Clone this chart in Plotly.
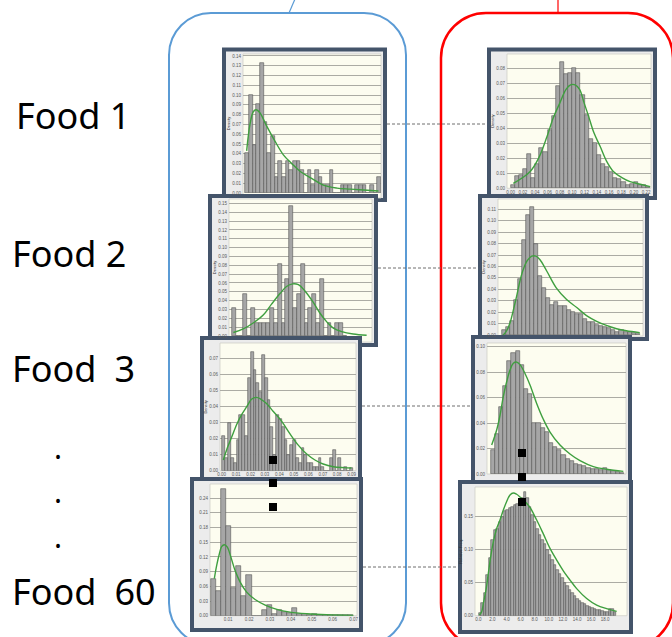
import plotly.graph_objects as go

W, H = 672, 637

# ---------------- data ----------------
labels = ["Food 1", "Food 2", "Food\u20023", "Food\u200260"]

food1_left_bars = [0.041, 0.100, 0.049, 0.091, 0.133, 0.073, 0.041, 0.058, 0.016, 0.033, 0.016, 0.033,
                   0.024, 0.033, 0.033, 0.024, 0.000, 0.024, 0.008, 0.024, 0.016, 0.008, 0.008, 0.024,
                   0.000, 0.000, 0.008, 0.008, 0.008, 0.000, 0.008, 0.008, 0.008, 0.000, 0.008, 0.000, 0.016]
food1_left_fit_x = [-0.1, 0.8, 1.7, 2.5, 3.5, 5.4, 7.6, 9.9, 12.2, 14.5, 17.6, 20.8, 24.5, 28.1, 31.7, 35.8]
food1_left_fit_y = [0.043, 0.070, 0.083, 0.085, 0.082, 0.068, 0.053, 0.039, 0.030, 0.022, 0.015, 0.008,
                    0.005, 0.004, 0.003, 0.002]

food2_left_bars = [0.032, 0, 0, 0.048, 0, 0.032, 0.015, 0.015, 0.015, 0.015, 0.032, 0.015, 0.082, 0.015,
                   0.065, 0.147, 0.032, 0.048, 0.082, 0.015, 0.032, 0.048, 0.015, 0.065, 0, 0.015, 0,
                   0.015, 0.015, 0]
food2_left_fit_x = [-0.07, 2.5, 5.2, 7.8, 9.9, 12.1, 13.8, 15.4, 16.9, 18.6, 20.8, 22.5, 24.3, 26.0, 28.2,
                    31.2, 34.7]
food2_left_fit_y = [0.004, 0.008, 0.015, 0.024, 0.036, 0.048, 0.056, 0.059, 0.058, 0.051, 0.038, 0.026,
                    0.016, 0.009, 0.005, 0.0023, 0.0008]

food3_left_bars = [0.0217, 0.0077, 0.030, 0.0077, 0.005, 0.019, 0.035, 0.035, 0.0217, 0.058, 0.074, 0.063,
                   0.055, 0.049, 0.072, 0.058, 0.044, 0.027, 0.010, 0.035, 0.032, 0.027, 0.019, 0.010,
                   0.016, 0.019, 0.0077, 0.005, 0.014, 0.010, 0.005, 0.005, 0.0025, 0.0025, 0.0077,
                   0.0025, 0, 0, 0.0077, 0.013, 0, 0.0077, 0, 0.0025, 0, 0.002]
food3_left_fit_x = [-0.15, 1.0, 2.8, 4.6, 6.3, 8.1, 9.8, 11.4, 13.0, 15.1, 17.5, 20.4, 23.4, 26.3, 29.3,
                    32.2, 35.1, 38.7, 42.2, 45.1]
food3_left_fit_y = [0.0067, 0.013, 0.021, 0.029, 0.035, 0.040, 0.0446, 0.0458, 0.0448, 0.042, 0.037, 0.031,
                    0.023, 0.016, 0.0104, 0.0067, 0.0042, 0.0025, 0.0019, 0.0017]

food60_left_bars = [0.074, 0.051, 0.258, 0.184, 0.057, 0.101, 0.040, 0.084, 0, 0, 0.011, 0.022, 0.004,
                    0.011, 0.007, 0.005, 0.016, 0.004, 0.002, 0.002, 0.003, 0.001, 0.001, 0.001, 0.0005,
                    0.0005, 0.0005, 0.0005]
food60_left_fit_x = [0.16, 0.63, 1.15, 1.6, 2.14, 2.73, 3.39, 4.24, 5.23, 6.5, 8.2, 10.2, 12.5, 15.1, 18.4,
                     22.3, 27.6]
food60_left_fit_y = [0.0757, 0.103, 0.126, 0.141, 0.145, 0.140, 0.121, 0.0926, 0.069, 0.0486, 0.033,
                     0.0216, 0.0128, 0.0074, 0.0041, 0.002, 0.0007]

food1_right_bars = [0.002, 0.008, 0.009, 0.013, 0.023, 0.007, 0.016, 0.027, 0.024, 0.039, 0.048, 0.068,
                    0.084, 0.076, 0.077, 0.080, 0.077, 0.062, 0.049, 0.033, 0.030, 0.022, 0.016, 0.014,
                    0.011, 0.007, 0.006, 0.004, 0.002, 0.003, 0.004, 0.002, 0.002, 0.001]
food1_right_fit_x = [0.16, 2.2, 4.2, 6.3, 8.3, 9.9, 11.5, 13.0, 14.1, 15.2, 16.3, 17.4, 18.5, 19.8, 21.3,
                     22.9, 24.6, 26.6, 28.6, 31.1, 33.5]
food1_right_fit_y = [0.0033, 0.0067, 0.011, 0.020, 0.034, 0.047, 0.057, 0.066, 0.069, 0.069, 0.066, 0.057,
                     0.048, 0.037, 0.028, 0.018, 0.011, 0.0071, 0.0044, 0.0027, 0.0011]

food2_right_bars = [0.004, 0.007, 0.012, 0.031, 0.049, 0.083, 0.105, 0.112, 0.080, 0.052, 0.041, 0.032,
                    0.026, 0.029, 0.025, 0.025, 0.022, 0.020, 0.018, 0.018, 0.014, 0.011, 0.011, 0.009,
                    0.008, 0.007, 0.006, 0.004, 0.003, 0.004, 0.003, 0.003, 0.002, 0.001]
food2_right_fit_x = [-0.1, 0.7, 1.6, 2.4, 3.2, 4.0, 4.8, 5.8, 6.9, 7.95, 8.9, 10.6, 13.0, 15.5, 18.0, 20.4,
                     22.9, 25.3, 27.8, 30.2, 33.5]
food2_right_fit_y = [0.0, 0.0035, 0.011, 0.022, 0.034, 0.047, 0.057, 0.065, 0.069, 0.069, 0.066, 0.056,
                     0.041, 0.031, 0.024, 0.017, 0.012, 0.0084, 0.0055, 0.0037, 0.002]

food3_right_bars = [0.0188, 0.0314, 0.0529, 0.069, 0.089, 0.095, 0.097, 0.086, 0.067, 0.063, 0.040, 0.040,
                    0.036, 0.033, 0.024, 0.021, 0.019, 0.015, 0.012, 0.010, 0.008, 0.007, 0.006, 0.0045,
                    0.0037, 0.0037, 0.003, 0.005, 0.003, 0.0026, 0.0018, 0.001]
food3_right_fit_x = [-0.24, 0.96, 1.76, 2.56, 3.36, 4.16, 4.96, 5.76, 6.56, 7.76, 8.96, 10.56, 12.16, 13.76,
                     16.16, 18.56, 20.96, 24.16, 27.36, 31.36]
food3_right_fit_y = [0.0228, 0.0346, 0.046, 0.061, 0.0725, 0.0817, 0.087, 0.088, 0.086, 0.079, 0.070,
                     0.0555, 0.043, 0.033, 0.0228, 0.0157, 0.0105, 0.0058, 0.0037, 0.0021]

food60_right_bars = [0.0045, 0.019, 0.034, 0.062, 0.088, 0.115, 0.130, 0.131, 0.142, 0.150, 0.159, 0.160,
                     0.163, 0.165, 0.168, 0.169, 0.173, 0.178, 0.188, 0.178, 0.165, 0.153, 0.142, 0.132,
                     0.122, 0.115, 0.109, 0.100, 0.092, 0.085, 0.077, 0.069, 0.063, 0.057, 0.050, 0.045,
                     0.039, 0.035, 0.030, 0.026, 0.023, 0.020, 0.018, 0.015, 0.013, 0.011, 0.010, 0.009,
                     0.008, 0.007, 0.006, 0.006, 0.010, 0.010, 0.006]
food60_right_fit_x = [-0.27, 0.67, 1.33, 2.4, 3.33, 4.27, 5.33, 6.67, 8.0, 9.33, 10.67, 12.0, 13.33, 14.67,
                      16.27, 18.0, 20.0, 22.67, 25.33, 28.0, 30.67, 33.33, 36.0, 38.67, 42.67, 46.67,
                      50.67, 54.67]
food60_right_fit_y = [0.001, 0.006, 0.0187, 0.039, 0.064, 0.089, 0.112, 0.132, 0.145, 0.160, 0.173, 0.183,
                      0.186, 0.184, 0.179, 0.173, 0.164, 0.145, 0.124, 0.102, 0.0843, 0.068, 0.054, 0.041,
                      0.026, 0.016, 0.0106, 0.0066]

# tick labels
food1_right_xtick_text = ["0.00", "0.02", "0.04", "0.06", "0.08", "0.10", "0.12", "0.14", "0.16", "0.18",
                          "0.20", "0.22"]
food3_left_xtick_text = ["0.00", "0.01", "0.02", "0.03", "0.04", "0.05", "0.06", "0.07", "0.08", "0.09"]
food60_left_xtick_text = ["0.01", "0.02", "0.03", "0.04", "0.05", "0.06", "0.07"]
food60_right_xtick_text = ["0.0", "2.0", "4.0", "6.0", "8.0", "10.0", "12.0", "14.0", "16.0", "18.0"]

# ---------------- styles / geometry ----------------
FRAME = "#44546a"
MARGIN_FILL = "#ececec"
IVORY = "#fdfdf0"
BAR = "#a6a6a6"
BAR_EDGE = "#555555"
GREEN = "#3f9f3f"
GRID = "#acaca4"
TICKFONT = dict(family="Liberation Sans, Arial, sans-serif", size=4.5, color="#5a5a5a")


def X(p):
    return p / W


def Y(p):
    return 1 - p / H


panels = [
    # left column
    dict(bars=food1_left_bars, fx=food1_left_fit_x, fy=food1_left_fit_y,
         frame=(224, 49.5, 385, 200), ivory=(243, 54, 381, 198), dom=(243, 54, 381, 193),
         xr=[-1.1, 36.5], yr=[0, 0.142], dtick=0.01, ytitle="Density", xt=None),
    dict(bars=food2_left_bars, fx=food2_left_fit_x, fy=food2_left_fit_y,
         frame=(210, 196, 376, 345), ivory=(229, 199, 372, 342), dom=(229, 199, 372, 336),
         xr=[-1.2, 36.1], yr=[0, 0.155], dtick=0.01, ytitle="Density", xt=None),
    dict(bars=food3_left_bars, fx=food3_left_fit_x, fy=food3_left_fit_y,
         frame=(202, 338, 360, 481), ivory=(220, 343, 356, 470.7), dom=(220, 343, 356, 470.7),
         xr=[-1.33, 46.7], yr=[0, 0.0798], dtick=0.01, ytitle="Density",
         xt=(-0.74, 5.1, food3_left_xtick_text)),
    dict(bars=food60_left_bars, fx=food60_left_fit_x, fy=food60_left_fit_y,
         frame=(192, 479, 361, 630), ivory=(210, 484, 357, 615.7), dom=(210, 484, 357, 615.7),
         xr=[-0.69, 28.3], yr=[0, 0.269], dtick=0.03, ytitle=None,
         xt=(2.9, 4.12, food60_left_xtick_text)),
    # right column
    dict(bars=food1_right_bars, fx=food1_right_fit_x, fy=food1_right_fit_y,
         frame=(489, 49.5, 655, 198), ivory=(507, 54, 651, 188.3), dom=(507, 54, 651, 188.3),
         xr=[-1.38, 33.7], yr=[0, 0.0896], dtick=0.01, ytitle="Density",
         xt=(-0.5, 3.0, food1_right_xtick_text)),
    dict(bars=food2_right_bars, fx=food2_right_fit_x, fy=food2_right_fit_y,
         frame=(480, 196, 647, 339), ivory=(498, 199, 643, 336), dom=(498, 199, 643, 335),
         xr=[-1.39, 34.3], yr=[0, 0.119], dtick=0.01, ytitle="Density", xt=None),
    dict(bars=food3_right_bars, fx=food3_right_fit_x, fy=food3_right_fit_y,
         frame=(473, 337, 630, 485), ivory=(487, 343, 626, 474), dom=(487, 343, 626, 474),
         xr=[-1.36, 32.0], yr=[0, 0.103], dtick=0.02, ytitle=None, xt=None),
    dict(bars=food60_right_bars, fx=food60_right_fit_x, fy=food60_right_fit_y,
         frame=(460, 482, 631, 632), ivory=(475, 487, 627, 615.7), dom=(475, 487, 627, 615.7),
         xr=[-2.0, 58.8], yr=[0, 0.195], dtick=0.05, ytitle="Relative Freq.",
         xt=(-0.67, 5.64, food60_right_xtick_text)),
]


def rrect_path(x0, y0, x1, y1, r):
    k = 0.5523 * r
    pts = [
        ("M", [(x0 + r, y0)]),
        ("L", [(x1 - r, y0)]),
        ("C", [(x1 - r + k, y0), (x1, y0 + r - k), (x1, y0 + r)]),
        ("L", [(x1, y1 - r)]),
        ("C", [(x1, y1 - r + k), (x1 - r + k, y1), (x1 - r, y1)]),
        ("L", [(x0 + r, y1)]),
        ("C", [(x0 + r - k, y1), (x0, y1 - r + k), (x0, y1 - r)]),
        ("L", [(x0, y0 + r)]),
        ("C", [(x0, y0 + r - k), (x0 + r - k, y0), (x0 + r, y0)]),
    ]
    s = ""
    for cmd, ps in pts:
        s += cmd + " ".join(f"{X(a):.5f},{Y(b):.5f}" for a, b in ps) + " "
    return s + "Z"


fig = go.Figure()
shapes = []

# grouping outlines
shapes.append(dict(type="path", xref="paper", yref="paper", layer="below",
                   path=rrect_path(169, 13, 406, 645, 42), line=dict(color="#5b9bd5", width=2)))
shapes.append(dict(type="path", xref="paper", yref="paper", layer="below",
                   path=rrect_path(441, 13, 673, 648, 45), line=dict(color="#ff0000", width=2.5)))
shapes.append(dict(type="line", xref="paper", yref="paper", layer="below",
                   x0=X(289), y0=Y(13), x1=X(295), y1=Y(-1), line=dict(color="#5b9bd5", width=1.2)))
shapes.append(dict(type="line", xref="paper", yref="paper", layer="below",
                   x0=X(558), y0=Y(13), x1=X(558), y1=Y(-1), line=dict(color="#ff0000", width=1.2)))

for i, p in enumerate(panels, start=1):
    sfx = "" if i == 1 else str(i)
    xa, ya = "x" + sfx, "y" + sfx
    fl, ft, fr, fb = p["frame"]
    shapes.append(dict(type="rect", xref="paper", yref="paper", layer="below",
                       x0=X(fl), y0=Y(fb), x1=X(fr), y1=Y(ft),
                       fillcolor=MARGIN_FILL, line=dict(color=FRAME, width=4)))
    il, it, ir, ib = p["ivory"]
    shapes.append(dict(type="rect", xref="paper", yref="paper", layer="below",
                       x0=X(il), y0=Y(ib), x1=X(ir), y1=Y(it),
                       fillcolor=IVORY, line=dict(color="#cfcfc8", width=0.8)))

    fig.add_trace(go.Bar(x=list(range(len(p["bars"]))), y=p["bars"], xaxis=xa, yaxis=ya, width=1.0,
                         marker=dict(color=BAR, line=dict(color=BAR_EDGE, width=0.6)),
                         showlegend=False, hoverinfo="skip"))
    fig.add_trace(go.Scatter(x=p["fx"], y=p["fy"], xaxis=xa, yaxis=ya, mode="lines",
                             line=dict(color=GREEN, width=1.4, shape="spline"),
                             showlegend=False, hoverinfo="skip"))

    dl, dt, dr, db = p["dom"]
    xaxis = dict(domain=[X(dl), X(dr)], range=p["xr"], anchor=ya, showgrid=False, zeroline=False,
                 showline=False, ticks="", automargin=False, fixedrange=True)
    if p["xt"] is None:
        xaxis["showticklabels"] = False
    else:
        start, step, texts = p["xt"]
        xaxis.update(tickmode="array", tickvals=[start + step * k for k in range(len(texts))],
                     ticktext=texts, tickfont=TICKFONT, ticklabelstandoff=0)
    yaxis = dict(domain=[Y(db), Y(dt)], range=p["yr"], anchor=xa, showgrid=True, gridcolor=GRID,
                 gridwidth=1, zeroline=False, showline=False, ticks="", dtick=p["dtick"], tick0=0,
                 tickformat=".2f", tickfont=TICKFONT, automargin=False, fixedrange=True,
                 ticklabelstandoff=1)
    if p["ytitle"]:
        yaxis["title"] = dict(text=p["ytitle"], font=dict(family="Liberation Sans", size=4, color="#333"),
                              standoff=1)
    fig.layout["xaxis" + sfx] = xaxis
    fig.layout["yaxis" + sfx] = yaxis

# dashed connectors
for (xa0, xa1, yy) in [(387, 487, 124), (378, 478, 268), (362, 471, 406), (363, 458, 567)]:
    shapes.append(dict(type="line", xref="paper", yref="paper", layer="above",
                       x0=X(xa0), y0=Y(yy), x1=X(xa1), y1=Y(yy),
                       line=dict(color="#6e6e6e", width=1.0, dash="3px,2px")))

# black ellipsis squares
for (cx, cy) in [(273, 460), (273, 483), (273, 507), (522, 453), (522, 477), (522, 502)]:
    shapes.append(dict(type="rect", xref="paper", yref="paper", layer="above",
                       x0=X(cx - 4), y0=Y(cy + 4), x1=X(cx + 4), y1=Y(cy - 4),
                       fillcolor="#000000", line=dict(width=0)))

annotations = []
label_pos = [(14, 116), (10, 253), (10, 368), (10, 591)]
for txt, (lx, ly) in zip(labels, label_pos):
    annotations.append(dict(text=txt, x=X(lx), y=Y(ly), xref="paper", yref="paper", xanchor="left",
                            yanchor="middle", showarrow=False,
                            font=dict(family="Noto Sans", size=36, color="#000000")))
for dy in [457, 502, 546]:
    annotations.append(dict(text=".", x=X(58), y=Y(dy - 10), xref="paper", yref="paper",
                            xanchor="center", yanchor="middle", showarrow=False,
                            font=dict(family="Noto Sans", size=30, color="#000000")))

fig.update_layout(width=W, height=H, margin=dict(l=0, r=0, t=0, b=0), template="none",
                  paper_bgcolor="white", plot_bgcolor="rgba(0,0,0,0)", bargap=0,
                  shapes=shapes, annotations=annotations, showlegend=False, hovermode=False)

fig.write_html("out.html")
